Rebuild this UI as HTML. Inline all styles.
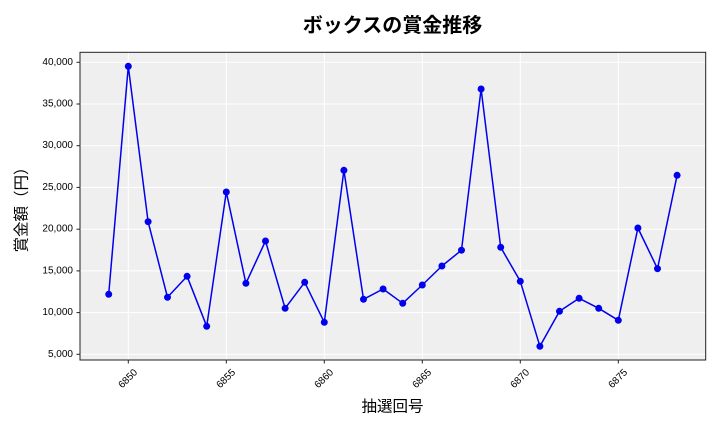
<!DOCTYPE html>
<html><head><meta charset="utf-8"><style>
html,body{margin:0;padding:0;background:#fff;}
svg{display:block;}
text{font-family:"Liberation Sans","Noto Sans CJK JP",sans-serif;}
.tk{font-family:"Noto Sans CJK JP","Liberation Sans",sans-serif;font-size:10px;fill:#000;}
</style></head><body>
<svg width="720" height="432" viewBox="0 0 720 432" xmlns="http://www.w3.org/2000/svg">
<rect x="0" y="0" width="720" height="432" fill="#fff"/>
<rect x="80" y="52.3" width="625.7" height="307.7" fill="#efefef"/>
<g stroke="#fff" stroke-width="1">
<line x1="80" x2="705.7" y1="354.3" y2="354.3"/>
<line x1="80" x2="705.7" y1="312.6" y2="312.6"/>
<line x1="80" x2="705.7" y1="270.9" y2="270.9"/>
<line x1="80" x2="705.7" y1="229.2" y2="229.2"/>
<line x1="80" x2="705.7" y1="187.4" y2="187.4"/>
<line x1="80" x2="705.7" y1="145.7" y2="145.7"/>
<line x1="80" x2="705.7" y1="104.0" y2="104.0"/>
<line x1="80" x2="705.7" y1="62.3" y2="62.3"/>
<line y1="52.3" y2="360" x1="128.3" x2="128.3"/>
<line y1="52.3" y2="360" x1="226.3" x2="226.3"/>
<line y1="52.3" y2="360" x1="324.3" x2="324.3"/>
<line y1="52.3" y2="360" x1="422.3" x2="422.3"/>
<line y1="52.3" y2="360" x1="520.3" x2="520.3"/>
<line y1="52.3" y2="360" x1="618.3" x2="618.3"/>
</g>
<rect x="80" y="52.3" width="625.7" height="307.7" fill="none" stroke="#222" stroke-width="1"/>
<g stroke="#222" stroke-width="1">
<line x1="76.5" x2="80" y1="354.3" y2="354.3"/>
<line x1="76.5" x2="80" y1="312.6" y2="312.6"/>
<line x1="76.5" x2="80" y1="270.9" y2="270.9"/>
<line x1="76.5" x2="80" y1="229.2" y2="229.2"/>
<line x1="76.5" x2="80" y1="187.4" y2="187.4"/>
<line x1="76.5" x2="80" y1="145.7" y2="145.7"/>
<line x1="76.5" x2="80" y1="104.0" y2="104.0"/>
<line x1="76.5" x2="80" y1="62.3" y2="62.3"/>
<line y1="360" y2="363.5" x1="128.3" x2="128.3"/>
<line y1="360" y2="363.5" x1="226.3" x2="226.3"/>
<line y1="360" y2="363.5" x1="324.3" x2="324.3"/>
<line y1="360" y2="363.5" x1="422.3" x2="422.3"/>
<line y1="360" y2="363.5" x1="520.3" x2="520.3"/>
<line y1="360" y2="363.5" x1="618.3" x2="618.3"/>
</g>
<g class="tk" text-anchor="end" dominant-baseline="central">
<text x="73" y="354.3">5,000</text>
<text x="73" y="312.6">10,000</text>
<text x="73" y="270.9">15,000</text>
<text x="73" y="229.2">20,000</text>
<text x="73" y="187.4">25,000</text>
<text x="73" y="145.7">30,000</text>
<text x="73" y="104.0">35,000</text>
<text x="73" y="62.3">40,000</text>
</g>
<g class="tk" text-anchor="middle" dominant-baseline="central">
<text transform="translate(128.3,379) rotate(-45)">6850</text>
<text transform="translate(226.3,379) rotate(-45)">6855</text>
<text transform="translate(324.3,379) rotate(-45)">6860</text>
<text transform="translate(422.3,379) rotate(-45)">6865</text>
<text transform="translate(520.3,379) rotate(-45)">6870</text>
<text transform="translate(618.3,379) rotate(-45)">6875</text>
</g>
<polyline fill="none" stroke="#0000ee" stroke-width="1.5" stroke-linejoin="round" points="108.7,294.3 128.3,66.3 148.1,221.7 167.5,297.3 187.1,276.3 206.7,326.3 226.3,192.0 245.9,283.3 265.5,241.0 285.1,308.3 304.7,282.3 324.3,322.3 343.9,170.3 363.5,299.3 383.1,289.0 402.7,303.3 422.3,285.0 441.9,266.0 461.5,250.2 481.1,89.0 500.7,247.3 520.3,281.3 539.9,346.3 559.5,311.3 579.1,298.3 598.7,308.3 618.3,320.3 637.9,228.0 657.5,268.7 677.1,175.3"/>
<g fill="#0000ee">
<circle cx="108.7" cy="294.3" r="3.5"/><circle cx="128.3" cy="66.3" r="3.5"/><circle cx="148.1" cy="221.7" r="3.5"/><circle cx="167.5" cy="297.3" r="3.5"/><circle cx="187.1" cy="276.3" r="3.5"/><circle cx="206.7" cy="326.3" r="3.5"/><circle cx="226.3" cy="192.0" r="3.5"/><circle cx="245.9" cy="283.3" r="3.5"/><circle cx="265.5" cy="241.0" r="3.5"/><circle cx="285.1" cy="308.3" r="3.5"/><circle cx="304.7" cy="282.3" r="3.5"/><circle cx="324.3" cy="322.3" r="3.5"/><circle cx="343.9" cy="170.3" r="3.5"/><circle cx="363.5" cy="299.3" r="3.5"/><circle cx="383.1" cy="289.0" r="3.5"/><circle cx="402.7" cy="303.3" r="3.5"/><circle cx="422.3" cy="285.0" r="3.5"/><circle cx="441.9" cy="266.0" r="3.5"/><circle cx="461.5" cy="250.2" r="3.5"/><circle cx="481.1" cy="89.0" r="3.5"/><circle cx="500.7" cy="247.3" r="3.5"/><circle cx="520.3" cy="281.3" r="3.5"/><circle cx="539.9" cy="346.3" r="3.5"/><circle cx="559.5" cy="311.3" r="3.5"/><circle cx="579.1" cy="298.3" r="3.5"/><circle cx="598.7" cy="308.3" r="3.5"/><circle cx="618.3" cy="320.3" r="3.5"/><circle cx="637.9" cy="228.0" r="3.5"/><circle cx="657.5" cy="268.7" r="3.5"/><circle cx="677.1" cy="175.3" r="3.5"/>
</g>
<text x="392.5" y="26" text-anchor="middle" dominant-baseline="central" font-size="20" font-weight="bold" fill="#000">ボックスの賞金推移</text>
<text x="392.5" y="407" text-anchor="middle" dominant-baseline="central" font-size="15.5" fill="#000">抽選回号</text>
<text transform="translate(22,206) rotate(-90)" text-anchor="middle" dominant-baseline="central" font-size="15.5" fill="#000">賞金額（円）</text>
</svg>
</body></html>
